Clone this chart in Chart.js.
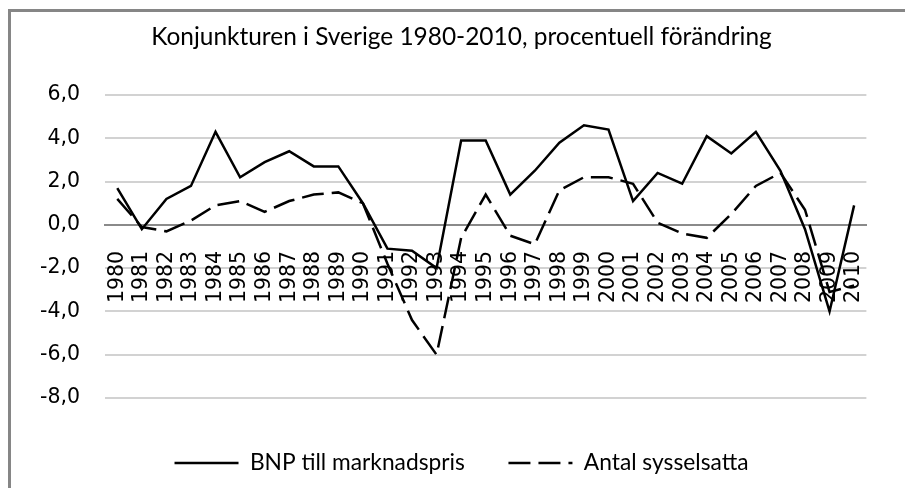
<!DOCTYPE html>
<html lang="sv">
<head>
<meta charset="utf-8">
<title>Konjunkturen i Sverige 1980-2010</title>
<script src="https://cdn.jsdelivr.net/npm/chart.js@4.4.1/dist/chart.umd.min.js"></script>
<style>
  html, body { margin: 0; padding: 0; background: #fff; overflow: hidden; }
  #wrap { position: relative; width: 905px; height: 488px; }
  #wrap canvas { display: block; }
  #frame {
    position: absolute; left: 8px; top: 9px; right: 0; bottom: 0;
    border-top: 3px solid #868686; border-left: 3px solid #868686;
    pointer-events: none;
  }
</style>
</head>
<body>
<div id="wrap">
  <canvas id="chart" width="905" height="488"></canvas>
  <div id="frame"></div>
</div>
<script>
const titleText = "Konjunkturen i Sverige 1980-2010, procentuell förändring";
const seriesNames = ["BNP till marknadspris", "Antal sysselsatta"];

const years = [
  "1980", "1981", "1982", "1983", "1984", "1985", "1986", "1987", "1988", "1989",
  "1990", "1991", "1992", "1993", "1994", "1995", "1996", "1997", "1998", "1999",
  "2000", "2001", "2002", "2003", "2004", "2005", "2006", "2007", "2008", "2009", "2010"
];

// BNP till marknadspris, % change
const bnp = [
  1.7, -0.2, 1.2, 1.8, 4.3, 2.2, 2.9, 3.4, 2.7, 2.7,
  1.0, -1.1, -1.2, -2.0, 3.9, 3.9, 1.4, 2.5, 3.8, 4.6,
  4.4, 1.1, 2.4, 1.9, 4.1, 3.3, 4.3, 2.5, -0.2, -4.0, 0.9
];

// Antal sysselsatta, % change
const sysselsatta = [
  1.2, -0.1, -0.3, 0.2, 0.9, 1.1, 0.6, 1.1, 1.4, 1.5,
  1.0, -1.8, -4.4, -6.0, -0.6, 1.4, -0.5, -0.9, 1.6, 2.2,
  2.2, 1.9, 0.1, -0.4, -0.6, 0.5, 1.8, 2.4, 0.7, -3.1, -2.8
];

const yMin = -8;
const yMax = 6;
const yStep = 2;

// pick a font size so the text gets the width it has in the picture
function fitFont(text, family, width) {
  const ctx = document.createElement("canvas").getContext("2d");
  ctx.font = `100px ${family}`;
  return 100 * width / ctx.measureText(text).width;
}

const titleSize = fitFont(titleText, "Lato", 621);
const legendSize = fitFont(seriesNames[0], "Lato", 215);
const legendPad = 55 - legendSize / 2;

// legend lines: take the dash from the dataset (point style would drop it)
function legendItems(chart) {
  return Chart.defaults.plugins.legend.labels.generateLabels(chart).map((item, i) => ({
    ...item,
    lineDash: chart.data.datasets[i].borderDash || []
  }));
}

new Chart(document.getElementById("chart"), {
  type: "line",
  data: {
    labels: years,
    datasets: [
      {
        label: seriesNames[0],
        data: bnp,
        borderColor: "#000",
        backgroundColor: "#000",
        borderWidth: 2.5,
        pointRadius: 0,
        tension: 0
      },
      {
        label: seriesNames[1],
        data: sysselsatta,
        borderColor: "#000",
        backgroundColor: "#000",
        borderWidth: 2.5,
        borderDash: [22, 8],
        pointRadius: 0,
        tension: 0
      }
    ]
  },
  options: {
    responsive: false,
    animation: false,
    layout: { padding: { left: 36, right: 18, top: 0, bottom: Math.max(0, 15 - legendSize / 2) } },
    scales: {
      x: {
        type: "category",
        offset: true,
        position: { y: 0 },
        grid: { display: false, drawTicks: false },
        border: { display: true, color: "#8a8a8a", width: 2 },
        ticks: {
          autoSkip: false,
          minRotation: 90,
          maxRotation: 90,
          padding: 26,
          color: "#000",
          font: { family: "DejaVu Sans", size: 20.5 }
        }
      },
      y: {
        min: yMin,
        max: yMax,
        ticks: {
          stepSize: yStep,
          padding: 25,
          color: "#000",
          font: { family: "DejaVu Sans", size: 20.5 },
          callback: v => v.toFixed(1).replace(".", ",")
        },
        grid: {
          drawTicks: false,
          lineWidth: 2,
          color: c => (c.tick && c.tick.value === 0 ? "#8a8a8a" : "#d2d2d2")
        },
        border: { display: false },
        afterFit: s => { s.width = 69; }
      }
    },
    plugins: {
      title: {
        display: true,
        text: titleText,
        color: "#000",
        font: { family: "Lato", size: titleSize, weight: "normal", lineHeight: 1.2 },
        padding: { top: 37 - 0.6 * titleSize, bottom: 58 - 0.6 * titleSize }
      },
      legend: {
        position: "bottom",
        title: { display: true, text: "", font: { size: 10, lineHeight: 1 }, padding: 0 },
        labels: {
          usePointStyle: true,
          pointStyle: "line",
          pointStyleWidth: 64,
          padding: legendPad,
          color: "#000",
          font: { family: "Lato", size: legendSize },
          generateLabels: legendItems
        }
      },
      tooltip: { enabled: false }
    }
  }
});
</script>
</body>
</html>
